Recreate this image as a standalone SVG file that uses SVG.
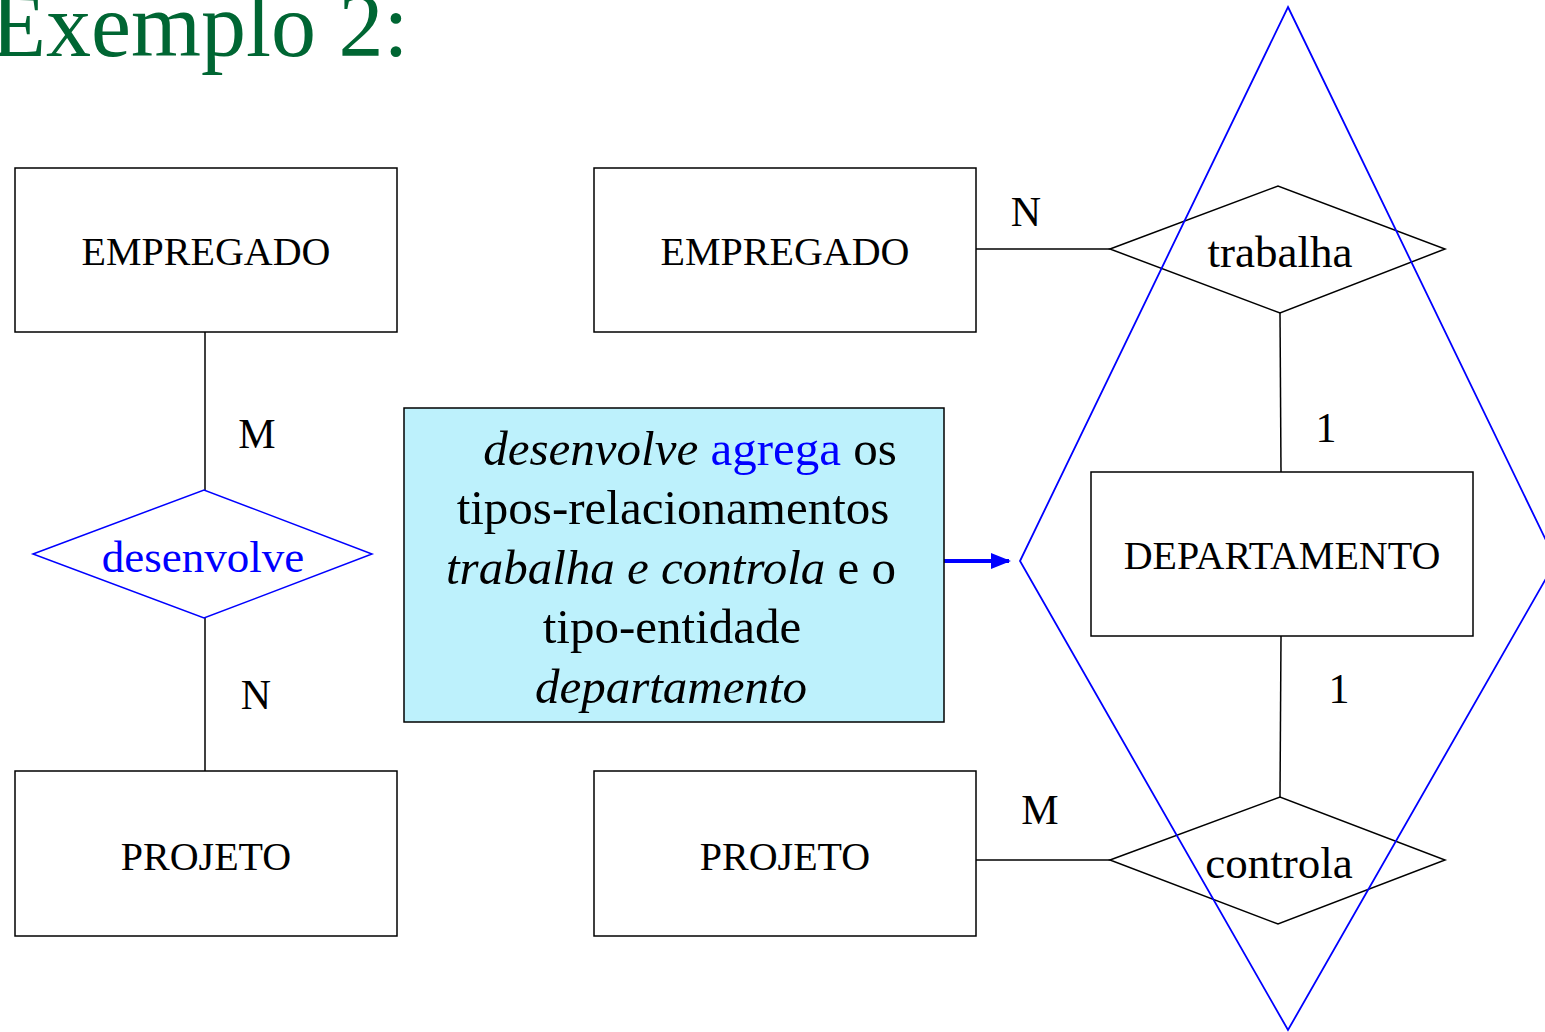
<svg xmlns="http://www.w3.org/2000/svg" width="1545" height="1032" viewBox="0 0 1545 1032">
<style>
text{font-family:"Liberation Serif","Times New Roman",serif;fill:#000}
.ent{fill:#fff;stroke:#000;stroke-width:1.5}
.rel{fill:#fff;stroke:#000;stroke-width:1.5}
.lbl{font-size:40px;text-anchor:middle}
.rl{font-size:45px;text-anchor:middle}
.card{font-size:42px;text-anchor:middle}
.ln{stroke:#000;stroke-width:1.5;fill:none}
.box{font-size:49px;text-anchor:middle}
</style>
<defs>
<marker id="ah" markerWidth="5" markerHeight="4" refX="4.5" refY="2" orient="auto" markerUnits="strokeWidth">
<path d="M0,0 L5,2 L0,4 Z" fill="#0000ff"/>
</marker>
</defs>
<text x="-9" y="56" style="font-size:90px;fill:#006633">Exemplo 2:</text>
<g id="connectors">
<line class="ln" x1="205" y1="332" x2="205" y2="490"/>
<line class="ln" x1="205" y1="618" x2="205" y2="771"/>
<line class="ln" x1="976" y1="249" x2="1110" y2="249"/>
<line class="ln" x1="1280" y1="313" x2="1281" y2="472"/>
<line class="ln" x1="1281" y1="636" x2="1280" y2="797"/>
<line class="ln" x1="976" y1="860" x2="1110" y2="860"/>
<line x1="944" y1="561" x2="1009" y2="561" stroke="#0000ff" stroke-width="4" marker-end="url(#ah)"/>
</g>
<g id="emp1"><rect class="ent" x="15" y="168" width="382" height="164"/><text class="lbl" x="206" y="265">EMPREGADO</text></g>
<g id="proj1"><rect class="ent" x="15" y="771" width="382" height="165"/><text class="lbl" x="206" y="870">PROJETO</text></g>
<g id="desenvolve"><polygon points="33,554 204,490 372,554 204,618" fill="#fff" stroke="#0000ff" stroke-width="1.5"/><text class="rl" x="203" y="572" style="fill:#0000ff">desenvolve</text></g>
<g id="emp2"><rect class="ent" x="594" y="168" width="382" height="164"/><text class="lbl" x="785" y="265">EMPREGADO</text></g>
<g id="proj2"><rect class="ent" x="594" y="771" width="382" height="165"/><text class="lbl" x="785" y="870">PROJETO</text></g>
<g id="trabalha"><polygon class="rel" points="1110,249 1278,186 1445,249 1280,313"/><text class="rl" x="1280" y="267">trabalha</text></g>
<g id="departamento"><rect class="ent" x="1091" y="472" width="382" height="164"/><text class="lbl" x="1282" y="569">DEPARTAMENTO</text></g>
<g id="controla"><polygon class="rel" points="1110,860 1280,797 1445,860 1278,924"/><text class="rl" x="1279" y="878">controla</text></g>
<g id="agregacao"><polygon points="1288,7 1556,561 1288,1030 1020,561" fill="none" stroke="#0000ff" stroke-width="1.8"/></g>
<g id="nota">
<rect x="404" y="408" width="540" height="314" fill="#bdf1fc" stroke="#000" stroke-width="1.5"/>
<text class="box" x="690" y="465"><tspan font-style="italic">desenvolve</tspan> <tspan style="fill:#0000ff">agrega</tspan> os</text>
<text class="box" x="673" y="524">tipos-relacionamentos</text>
<text class="box" x="671" y="584"><tspan font-style="italic">trabalha e controla</tspan> e o</text>
<text class="box" x="672" y="643">tipo-entidade</text>
<text class="box" x="671" y="703" font-style="italic">departamento</text>
</g>
<g id="cardinalidades">
<text class="card" x="257" y="448">M</text>
<text class="card" x="256" y="709">N</text>
<text class="card" x="1026" y="226">N</text>
<text class="card" x="1326" y="442">1</text>
<text class="card" x="1339" y="703">1</text>
<text class="card" x="1040" y="824">M</text>
</g>
</svg>
